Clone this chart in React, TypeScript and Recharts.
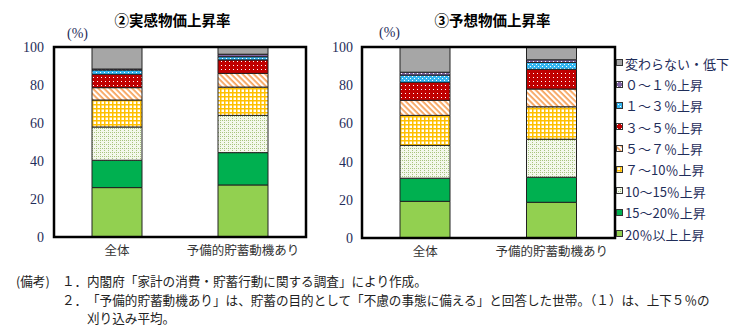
import React from "react";
import { BarChart, Bar, XAxis, YAxis } from "recharts";

const categories = ["全体", "予備的貯蓄動機あり"];
const seriesKeys = ["r20", "r15", "r10", "r7", "r5", "r3", "r1", "r0", "flat"];
const seriesNames = [
  "20％以上上昇",
  "15～20％上昇",
  "10～15％上昇",
  "７～10％上昇",
  "５～７％上昇",
  "３～５％上昇",
  "１～３％上昇",
  "０～１％上昇",
  "変わらない・低下",
];
const yTicks = [0, 20, 40, 60, 80, 100];

// ② 実感物価上昇率 (bottom → top)
const actualAll = [26.0, 14.4, 17.5, 14.2, 6.5, 7.0, 2.3, 0.5, 11.6];
const actualPrecaution = [27.4, 17.0, 19.6, 14.9, 7.2, 7.1, 1.7, 1.3, 3.8];
// ③ 予想物価上昇率 (bottom → top)
const expectedAll = [19.2, 12.1, 17.2, 15.7, 7.9, 9.4, 3.8, 1.5, 13.2];
const expectedPrecaution = [18.7, 13.1, 19.9, 17.0, 9.3, 10.3, 3.6, 1.4, 6.7];

const seriesFills = [
  "#92D050",
  "#00B050",
  "url(#pat1015)",
  "url(#pat710)",
  "url(#pat57)",
  "url(#pat35)",
  "url(#pat13)",
  "url(#pat01)",
  "#A6A6A6",
];

function buildRows(valueSets: number[][]) {
  return categories.map((name, i) => {
    const row: Record<string, any> = { name };
    seriesKeys.forEach((k, j) => {
      row[k] = valueSets[i][j];
    });
    return row;
  });
}

const actualRows = buildRows([actualAll, actualPrecaution]);
const expectedRows = buildRows([expectedAll, expectedPrecaution]);

const navy = "#1F2D5A";

function Patterns() {
  return (
    <svg width={0} height={0} style={{ position: "absolute" }}>
      <defs>
        <pattern id="pat1015" width={4} height={4} patternUnits="userSpaceOnUse">
          <rect width={4} height={4} fill="#F4F8EC" />
          <rect x={0} y={0} width={1} height={1} fill="#A9C47F" />
          <rect x={0} y={2} width={1} height={1} fill="#A9C47F" />
          <rect x={2} y={0} width={1} height={1} fill="#A9C47F" />
        </pattern>
        <pattern id="pat710" width={4} height={4} patternUnits="userSpaceOnUse">
          <rect width={4} height={4} fill="#FFFFFF" />
          <rect x={0} y={0} width={4} height={1.5} fill="#FFC000" />
          <rect x={0} y={0} width={1.5} height={4} fill="#FFC000" />
        </pattern>
        <pattern id="pat57" width={4} height={4} patternUnits="userSpaceOnUse" patternTransform="rotate(45)">
          <rect width={4} height={4} fill="#FFFFFF" />
          <rect x={0} y={0} width={4} height={1.8} fill="#F7A35C" />
        </pattern>
        <pattern id="pat35" width={4} height={4} patternUnits="userSpaceOnUse">
          <rect width={4} height={4} fill="#C00000" />
          <rect x={1} y={1} width={1} height={1} fill="#FFFFFF" />
        </pattern>
        <pattern id="pat13" width={4} height={4} patternUnits="userSpaceOnUse">
          <rect width={4} height={4} fill="#33B5F0" />
          <rect x={0} y={0} width={1} height={1} fill="#FFFFFF" />
          <rect x={2} y={2} width={1} height={1} fill="#FFFFFF" />
        </pattern>
        <pattern id="pat01" width={4} height={4} patternUnits="userSpaceOnUse">
          <rect width={4} height={4} fill="#8064A2" />
          <rect x={1} y={1} width={1} height={1} fill="#FFFFFF" />
        </pattern>
      </defs>
    </svg>
  );
}

const MARGIN_TOP = 47;
const X_AXIS_HEIGHT = 25;
const FRAME_W = 2.5;

function Panel(props: {
  rows: Record<string, any>[];
  left: number;
  width: number;
  height: number;
  yAxisWidth: number;
  marginRight: number;
  tickGap: number;
}) {
  const { rows, left, width, height, yAxisWidth, marginRight, tickGap } = props;
  const plotW = width - yAxisWidth - marginRight;
  const plotH = height - MARGIN_TOP - X_AXIS_HEIGHT;
  return (
    <div style={{ position: "absolute", left, top: 0, width, height }}>
      <BarChart
        width={width}
        height={height}
        data={rows}
        margin={{ top: MARGIN_TOP, right: marginRight, left: 0, bottom: 0 }}
        barSize={50}
        barCategoryGap={0}
      >
        <XAxis
          dataKey="name"
          interval={0}
          tickLine={false}
          tickSize={0}
          tickMargin={9}
          axisLine={false}
          height={X_AXIS_HEIGHT}
          tick={{ fill: "#333", fontSize: 12.5, fontFamily: "Noto Sans CJK JP" }}
        />
        <YAxis
          type="number"
          domain={[0, 100]}
          ticks={yTicks}
          interval={0}
          tickLine={false}
          tickSize={0}
          tickMargin={tickGap}
          axisLine={false}
          width={yAxisWidth}
          tick={{ fill: navy, fontSize: 14, fontFamily: "Liberation Serif" }}
        />
        {seriesKeys.map((k, j) => (
          <Bar
            key={k}
            dataKey={k}
            name={seriesNames[j]}
            stackId="a"
            fill={seriesFills[j]}
            stroke="#222"
            strokeWidth={1}
            isAnimationActive={false}
          />
        ))}
      </BarChart>
      <svg
        width={width}
        height={height}
        style={{ position: "absolute", left: 0, top: 0, pointerEvents: "none", overflow: "visible" }}
      >
        <rect
          x={yAxisWidth}
          y={MARGIN_TOP}
          width={plotW}
          height={plotH}
          fill="none"
          stroke="#000000"
          strokeWidth={FRAME_W}
        />
      </svg>
    </div>
  );
}

const titleStyle: React.CSSProperties = {
  position: "absolute",
  fontFamily: "Noto Sans CJK JP",
  fontWeight: 700,
  fontSize: 14.5,
  color: "#000",
  whiteSpace: "nowrap",
  transform: "translate(-50%, -50%)",
};

const pctStyle: React.CSSProperties = {
  position: "absolute",
  fontFamily: "Liberation Serif",
  fontSize: 14,
  color: navy,
  whiteSpace: "nowrap",
  transform: "translateY(-50%)",
};

const noteStyle: React.CSSProperties = {
  position: "absolute",
  fontFamily: "Noto Sans CJK JP",
  fontSize: 12.6,
  color: "#222",
  whiteSpace: "nowrap",
  lineHeight: "16px",
  transform: "translateY(-50%)",
};

export default function App() {
  const legendOrder = seriesKeys.map((_, j) => j).reverse();
  return (
    <div style={{ position: "absolute", left: 0, top: 0, width: 752, height: 326, background: "#fff", overflow: "hidden" }}>
      <Patterns />
      <div style={{ ...titleStyle, left: 172.5, top: 19 }}>②実感物価上昇率</div>
      <div style={{ ...titleStyle, left: 492.5, top: 19 }}>③予想物価上昇率</div>
      <div style={{ ...pctStyle, left: 67, top: 34 }}>(%)</div>
      <div style={{ ...pctStyle, left: 379, top: 33 }}>(%)</div>

      <Panel rows={actualRows} left={0} width={320} height={262} yAxisWidth={54} marginRight={14} tickGap={10} />
      <Panel rows={expectedRows} left={300} width={320} height={263} yAxisWidth={62} marginRight={5} tickGap={9} />

      <div style={{ position: "absolute", left: 614, top: 52.6 }}>
        {legendOrder.map((j) => (
          <div key={seriesKeys[j]} style={{ height: 21.35, display: "flex", alignItems: "center" }}>
            <svg width={8} height={8} style={{ marginLeft: 2, marginRight: 1 }}>
              <rect x={0.5} y={0.5} width={6} height={6} fill={seriesFills[j]} stroke="#333" strokeWidth={1} />
            </svg>
            <span style={{ fontFamily: "Noto Sans CJK JP", fontSize: 13, color: navy, whiteSpace: "nowrap" }}>
              {seriesNames[j]}
            </span>
          </div>
        ))}
      </div>

      <div style={{ ...noteStyle, left: 16, top: 281 }}>(備考)</div>
      <div style={{ ...noteStyle, left: 62, top: 281 }}>１．</div>
      <div style={{ ...noteStyle, left: 87, top: 281 }}>内閣府「家計の消費・貯蓄行動に関する調査」により作成。</div>
      <div style={{ ...noteStyle, left: 62, top: 299.5 }}>２．</div>
      <div style={{ ...noteStyle, left: 87, top: 299.5 }}>
        「予備的貯蓄動機あり」は、貯蓄の目的として「不慮の事態に備える」と回答した世帯。（１）は、上下５％の
      </div>
      <div style={{ ...noteStyle, left: 87, top: 317.5 }}>刈り込み平均。</div>
    </div>
  );
}
